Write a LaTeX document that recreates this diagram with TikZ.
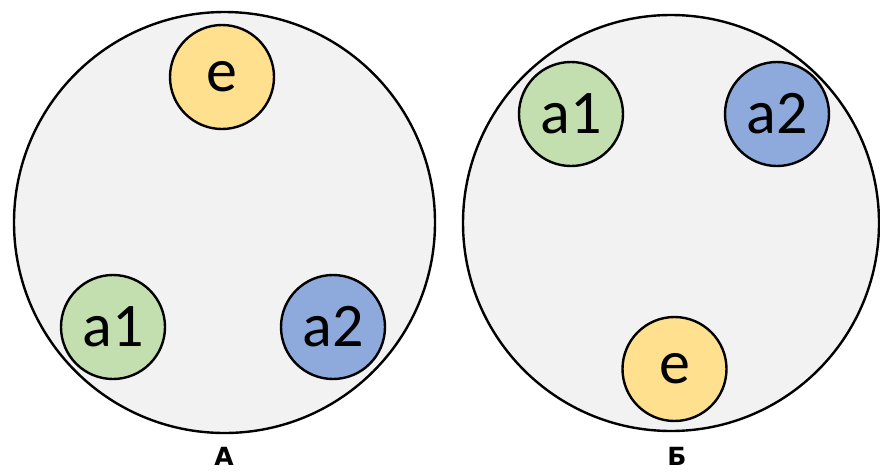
\documentclass[tikz,border=0pt]{standalone}
\usepackage{fontspec}
\setmainfont{Carlito}
\newfontfamily\labfont{DejaVu Sans}
\definecolor{bigfill}{HTML}{F2F2F2}
\definecolor{efill}{HTML}{FFE08F}
\definecolor{gfill}{HTML}{C3DFB0}
\definecolor{bfill}{HTML}{8EA9DB}
\begin{document}
\begin{tikzpicture}[x=1pt,y=-1pt,
  bigc/.style={circle,draw=black,line width=2.4pt,fill=bigfill,inner sep=0pt},
  smallc/.style={circle,draw=black,line width=2.4pt,inner sep=0pt,minimum size=104pt,
    font=\fontsize{62}{62}\selectfont},
  caption/.style={font=\labfont\bfseries\fontsize{25}{25}\selectfont,anchor=base,inner sep=0pt}]
\useasboundingbox (0,0) rectangle (880,472);
% Panel A
\node[bigc,minimum size=421pt] (bigA) at (224.5,222.5) {};
\node[smallc,fill=efill] (eA) at (222,77) {e};
\node[smallc,fill=gfill] (a1A) at (113,327) {a1};
\node[smallc,fill=bfill] (a2A) at (333,327) {a2};
\node[caption] (capA) at (224,465) {А};
% Panel B
\node[bigc,minimum size=416pt] (bigB) at (671,223) {};
\node[smallc,fill=gfill] (a1B) at (571,114) {a1};
\node[smallc,fill=bfill] (a2B) at (777,114) {a2};
\node[smallc,fill=efill] (eB) at (674.5,369) {e};
\node[caption] (capB) at (677,465) {Б};
\end{tikzpicture}
\end{document}
